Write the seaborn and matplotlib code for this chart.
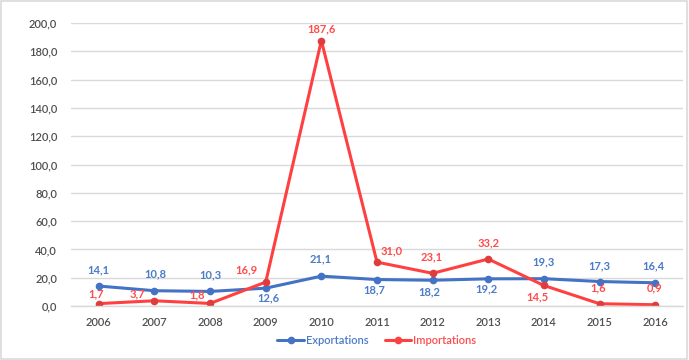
import pandas as pd
import numpy as np
import matplotlib.pyplot as plt
import seaborn as sns
from matplotlib.patches import Rectangle

annees = ['2006', '2007', '2008', '2009', '2010', '2011', '2012', '2013', '2014', '2015', '2016']
exportations = [14.1, 10.8, 10.3, 12.6, 21.1, 18.7, 18.2, 19.2, 19.3, 17.3, 16.4]
importations = [1.7, 3.7, 1.8, 16.9, 187.6, 31.0, 23.1, 33.2, 14.5, 1.6, 0.9]

# décalages des étiquettes (pixels)
decal_exp = [(0, 16), (1, 17), (0, 17), (3, -10), (-1, 17), (-3, -10), (-3, -12), (-2, -10), (0, 17), (0, 16), (-2, 17)]
decal_imp = [(-3, 10), (-17, 7), (-13, 9), (-19, 12), (0, 12), (15, 11), (-1, 16), (0, 16), (-7, -11), (-1, 16), (-1, 17)]

sns.set_theme(style='white')
plt.rcParams['font.family'] = ['Lato', 'DejaVu Sans']

df = pd.DataFrame({
    'annee': annees * 2,
    'valeur': exportations + importations,
    'serie': ['Exportations'] * len(annees) + ['Importations'] * len(annees),
})

bleu = '#4472C4'
rouge = '#FF4040'

fig = plt.figure(figsize=(6.89, 3.60), dpi=100)
ax = fig.add_axes([71 / 689, 1 - 306 / 360, 612 / 689, 283 / 360])

sns.lineplot(data=df, x='annee', y='valeur', hue='serie', palette=[bleu, rouge],
             marker='o', markersize=5.5, linewidth=2.2, markeredgewidth=0, ax=ax, legend=True)
for ln, c in zip(ax.lines, ['#4472C4', '#E03C3C']):
    ln.set_markerfacecolor(c)

ax.set_xlim(-0.5, len(annees) - 0.5)
ax.set_ylim(0, 200)
ax.set_yticks(np.arange(0, 201, 20))
ax.set_yticklabels([f'{v:.1f}'.replace('.', ',') for v in np.arange(0, 201, 20)])
ax.yaxis.grid(True, color='#D9D9D9', linewidth=1)
ax.set_axisbelow(True)
for s in ['top', 'right', 'left']:
    ax.spines[s].set_visible(False)
ax.spines['bottom'].set_color('#D9D9D9')
ax.spines['bottom'].set_linewidth(1)
ax.tick_params(axis='both', length=0, labelsize=8, labelcolor='#505050')
ax.tick_params(axis='x', pad=8)
ax.tick_params(axis='y', pad=10)
for t in ax.get_xticklabels() + ax.get_yticklabels():
    t.set_fontweight('semibold')
ax.set_xlabel('')
ax.set_ylabel('')

for i, v in enumerate(exportations):
    ax.annotate(f'{v:.1f}'.replace('.', ','), (i, v), xytext=decal_exp[i], textcoords='offset pixels',
                ha='center', va='center', color='#4A7BC8', fontsize=8, fontweight='bold')
for i, v in enumerate(importations):
    ax.annotate(f'{v:.1f}'.replace('.', ','), (i, v), xytext=decal_imp[i], textcoords='offset pixels',
                ha='center', va='center', color='#FF4B4B', fontsize=8, fontweight='bold')

leg = ax.legend(loc='center', bbox_to_anchor=(0.5, -0.122), ncol=2, frameon=False,
                fontsize=8, handlelength=2.4, handletextpad=0.2, columnspacing=1.4)
for txt, c in zip(leg.get_texts(), ['#4A7BC8', '#FF4B4B']):
    txt.set_color(c)
    txt.set_fontweight('semibold')

fig.patches.append(Rectangle((0.002, 0.003), 0.995, 0.993, transform=fig.transFigure,
                             fill=False, edgecolor='#D9D9D9', linewidth=1.2))

fig.savefig('out.png', dpi=100)
